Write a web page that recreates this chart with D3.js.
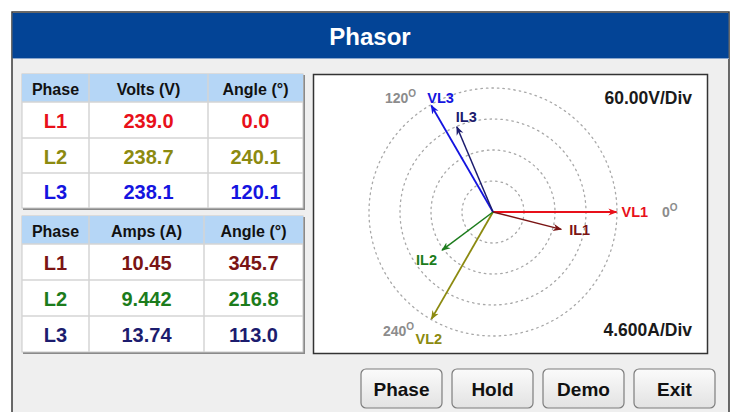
<!DOCTYPE html>
<html>
<head>
<meta charset="utf-8">
<title>Phasor</title>
<style>
  body { margin: 0; background: #ffffff; }
  svg { display: block; font-family: "Liberation Sans", Arial, sans-serif; }
  .cellText { font-weight: bold; text-anchor: middle; dominant-baseline: central; }
  .ring { fill: none; stroke: #a8a8a8; stroke-width: 1.3px; stroke-dasharray: 1.5 4; stroke-linecap: round; }
  .angleLabel { fill: #8c8c8c; font-size: 14px; font-weight: bold; }
  .vecLabel { font-size: 14.5px; font-weight: bold; }
  .divLabel { fill: #1a1a1a; font-size: 17.5px; font-weight: bold; }
  .btnText { font-size: 19px; font-weight: bold; fill: #111; text-anchor: middle; dominant-baseline: central; }
</style>
<script src="https://cdnjs.cloudflare.com/ajax/libs/d3/7.8.5/d3.min.js"></script>
</head>
<body>
<svg width="734" height="412"></svg>
<script>
// data
var phases = ["L1", "L2", "L3"];
var volts = [239.0, 238.7, 238.1];
var voltAngles = [0.0, 240.1, 120.1];
var amps = [10.45, 9.442, 13.74];
var ampAngles = [345.7, 216.8, 113.0];
var voltHeaders = ["Phase", "Volts (V)", "Angle (°)"];
var ampHeaders = ["Phase", "Amps (A)", "Angle (°)"];
var voltsPerDiv = 60.0;
var ampsPerDiv = 4.6;
var ringDivs = [1, 2, 3, 4];
var axisAngles = [0, 120, 240];
var buttons = ["Phase", "Hold", "Demo", "Exit"];

var voltColors = ["#e8101a", "#8c8a10", "#1414e0"];
var ampColors = ["#7a1414", "#1c7c1c", "#1c1c6e"];

var svg = d3.select("svg");

// window frame
svg.append("rect").attr("x", 12).attr("y", 12).attr("width", 717).attr("height", 410)
  .attr("fill", "#efefef").attr("stroke", "#3a3a3a").attr("stroke-width", 1.5);
svg.append("rect").attr("x", 12.5).attr("y", 13).attr("width", 716).attr("height", 45)
  .attr("fill", "#034496");
svg.append("line").attr("x1", 13).attr("x2", 729).attr("y1", 58.5).attr("y2", 58.5)
  .attr("stroke", "#8aa6cc").attr("stroke-width", 1);
svg.append("text").attr("x", 370).attr("y", 36)
  .attr("fill", "#ffffff").attr("font-size", 24).attr("font-weight", "bold")
  .attr("text-anchor", "middle").attr("dominant-baseline", "central")
  .text("Phasor");

// tables
function drawTable(top, rowEdges, colEdges, headers, values, angles, colors, fmt)
{
  var g = svg.append("g");
  var left = colEdges[0], right = colEdges[colEdges.length - 1];
  var bottom = rowEdges[rowEdges.length - 1];

  // shadow
  g.append("rect").attr("x", left + 1).attr("y", top + 1)
    .attr("width", right - left + 1).attr("height", bottom - top + 1)
    .attr("fill", "#8a8a8a");
  g.append("rect").attr("x", left).attr("y", top)
    .attr("width", right - left).attr("height", bottom - top)
    .attr("fill", "#ffffff").attr("stroke", "#c8c8c8");
  g.append("rect").attr("x", left).attr("y", top)
    .attr("width", right - left).attr("height", rowEdges[0] - top)
    .attr("fill", "#b5d6f6");

  g.selectAll("line.hline").data(rowEdges.slice(0, -1)).enter().append("line")
    .attr("class", "hline")
    .attr("x1", left).attr("x2", right)
    .attr("y1", function(d) { return d; }).attr("y2", function(d) { return d; })
    .attr("stroke", "#d4d4d4").attr("stroke-width", 1.5);
  g.selectAll("line.vline").data(colEdges.slice(1, -1)).enter().append("line")
    .attr("class", "vline")
    .attr("y1", top).attr("y2", bottom)
    .attr("x1", function(d) { return d; }).attr("x2", function(d) { return d; })
    .attr("stroke", "#d4d4d4").attr("stroke-width", 1.5);

  var colMid = function(i) { return (colEdges[i] + colEdges[i + 1]) / 2; };

  g.selectAll("text.head").data(headers).enter().append("text")
    .attr("class", "cellText head")
    .attr("x", function(d, i) { return colMid(i); })
    .attr("y", (top + rowEdges[0]) / 2 + 1)
    .attr("font-size", 16).attr("fill", "#111")
    .text(function(d) { return d; });

  var rows = phases.map(function(p, i) {
    return [p, fmt(values[i]), angles[i].toFixed(1)];
  });

  rows.forEach(function(row, r)
  {
    var y = (rowEdges[r] + rowEdges[r + 1]) / 2 + 1;
    g.selectAll("text.r" + r).data(row).enter().append("text")
      .attr("class", "cellText r" + r)
      .attr("x", function(d, i) { return colMid(i); })
      .attr("y", y)
      .attr("font-size", 20).attr("fill", colors[r])
      .text(function(d) { return d; });
  });
}

drawTable(74, [102, 138, 173, 208], [22, 89, 208, 303], voltHeaders, volts, voltAngles, voltColors,
  function(v) { return v.toFixed(1); });
drawTable(216, [244, 280, 316, 352], [22, 89, 204, 303], ampHeaders, amps, ampAngles, ampColors,
  function(v) { return d3.format(".4")(v); });

// phasor panel
svg.append("rect").attr("x", 313.5).attr("y", 74.5).attr("width", 394).attr("height", 279)
  .attr("fill", "#ffffff").attr("stroke", "#333").attr("stroke-width", 1.5);

var cx = 493, cy = 212;
var r = d3.scaleLinear().domain([0, 4]).range([0, 124]);
var toRad = function(deg) { return deg * Math.PI / 180; };
var px = function(div, deg) { return cx + r(div) * Math.cos(toRad(deg)); };
var py = function(div, deg) { return cy - r(div) * Math.sin(toRad(deg)); };

var plot = svg.append("g");

plot.selectAll("circle.ring").data(ringDivs).enter().append("circle")
  .attr("class", "ring")
  .attr("cx", cx).attr("cy", cy)
  .attr("r", function(d) { return r(d); });

var allColors = voltColors.concat(ampColors);
var defs = svg.append("defs");
defs.selectAll("marker").data(allColors).enter().append("marker")
  .attr("id", function(d, i) { return "arr" + i; })
  .attr("viewBox", "0 0 10 10").attr("refX", 9).attr("refY", 5)
  .attr("markerWidth", 9).attr("markerHeight", 9)
  .attr("markerUnits", "userSpaceOnUse")
  .attr("orient", "auto")
  .append("path").attr("d", "M0,1 L10,5 L0,9 L3,5 Z")
  .attr("fill", function(d) { return d; });

var vectors = [];
phases.forEach(function(p, i) {
  vectors.push({ name: "V" + p, div: volts[i] / voltsPerDiv, ang: voltAngles[i], color: voltColors[i], m: i });
});
phases.forEach(function(p, i) {
  vectors.push({ name: "I" + p, div: amps[i] / ampsPerDiv, ang: ampAngles[i], color: ampColors[i], m: i + 3 });
});

plot.selectAll("line.vec").data(vectors).enter().append("line")
  .attr("class", "vec")
  .attr("x1", cx).attr("y1", cy)
  .attr("x2", function(d) { return px(d.div, d.ang); })
  .attr("y2", function(d) { return py(d.div, d.ang); })
  .attr("stroke", function(d) { return d.color; })
  .attr("stroke-width", function(d) { return d.name[0] == "V" ? 1.8 : 1.5; })
  .attr("marker-end", function(d) { return "url(#arr" + d.m + ")"; });

// vector labels, offset from the tip
var labelOffsets = { VL1: [5, 0], VL2: [-16, 20], VL3: [-4, -8], IL1: [8, 1], IL2: [-26, 10], IL3: [-1, -10] };
plot.selectAll("text.vecLabel").data(vectors).enter().append("text")
  .attr("class", "vecLabel")
  .attr("x", function(d) { return px(d.div, d.ang) + labelOffsets[d.name][0]; })
  .attr("y", function(d) { return py(d.div, d.ang) + labelOffsets[d.name][1]; })
  .attr("dominant-baseline", "central")
  .attr("fill", function(d) { return d.color; })
  .text(function(d) { return d.name; });

// angle markers
var angleOffsets = { 0: [45, 0], 120: [-46, -7], 240: [-48, 12] };
var angleText = plot.selectAll("text.angleLabel").data(axisAngles).enter().append("text")
  .attr("class", "angleLabel")
  .attr("x", function(d) { return px(4, d) + angleOffsets[d][0]; })
  .attr("y", function(d) { return py(4, d) + angleOffsets[d][1]; })
  .attr("dominant-baseline", "central");
angleText.append("tspan").text(function(d) { return d; });
angleText.append("tspan").attr("dy", -5).attr("font-size", 10).text("O");

plot.append("text").attr("class", "divLabel").attr("x", 692).attr("y", 98)
  .attr("text-anchor", "end").attr("dominant-baseline", "central")
  .text(d3.format(".2f")(voltsPerDiv) + "V/Div");
plot.append("text").attr("class", "divLabel").attr("x", 692).attr("y", 330)
  .attr("text-anchor", "end").attr("dominant-baseline", "central")
  .text(d3.format(".3f")(ampsPerDiv) + "A/Div");

// buttons
var grad = defs.append("linearGradient").attr("id", "btnGrad")
  .attr("x1", 0).attr("y1", 0).attr("x2", 0).attr("y2", 1);
grad.append("stop").attr("offset", "0%").attr("stop-color", "#fbfbfb");
grad.append("stop").attr("offset", "100%").attr("stop-color", "#e2e2e2");

var bx = d3.scaleBand().domain(buttons).range([361, 715]).paddingInner(0.11).paddingOuter(0);

var btn = svg.selectAll("g.btn").data(buttons).enter().append("g")
  .attr("class", "btn")
  .attr("transform", function(d) { return "translate(" + bx(d) + ",369)"; });
btn.append("rect").attr("width", bx.bandwidth()).attr("height", 39)
  .attr("rx", 5).attr("ry", 5)
  .attr("fill", "url(#btnGrad)").attr("stroke", "#7d7d7d").attr("stroke-width", 1.2);
btn.append("text").attr("class", "btnText")
  .attr("x", bx.bandwidth() / 2).attr("y", 20)
  .text(function(d) { return d; });
</script>
</body>
</html>
